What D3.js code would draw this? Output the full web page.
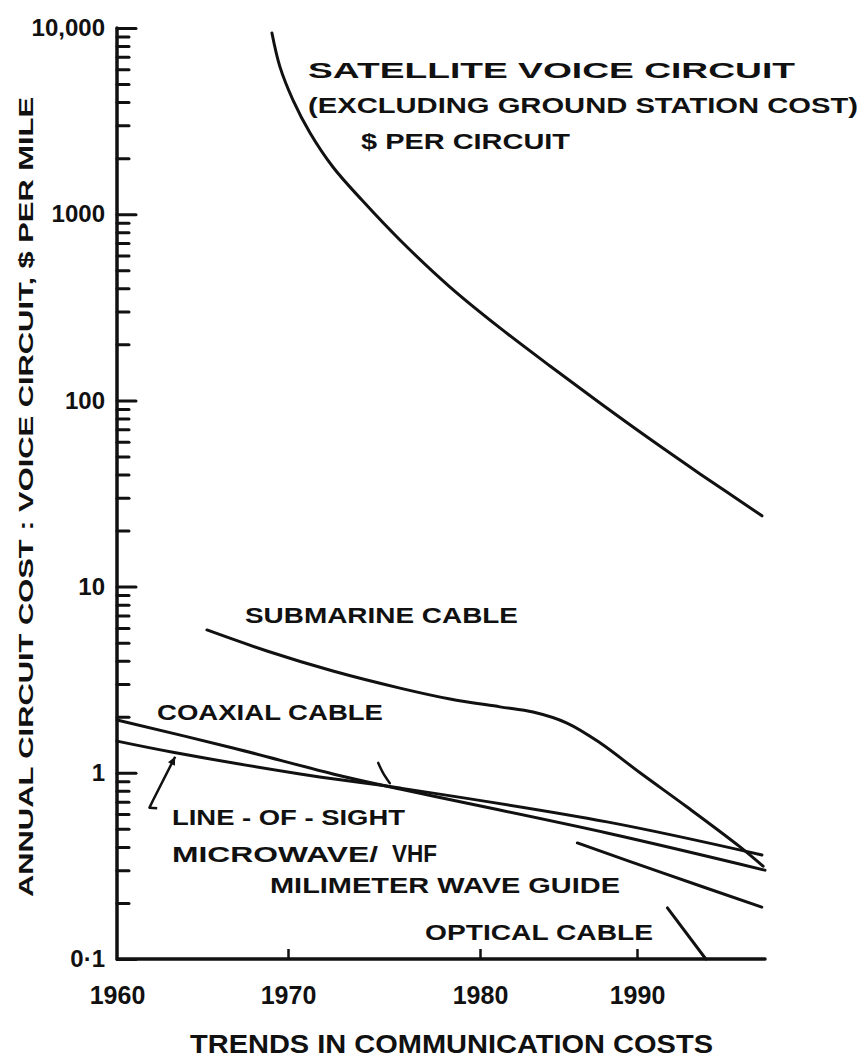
<!DOCTYPE html>
<html>
<head>
<meta charset="utf-8">
<script src="https://cdn.jsdelivr.net/npm/d3@7"></script>
<style>
  html, body { margin: 0; padding: 0; background: #fff; }
  svg { display: block; }
  text { font-family: "Liberation Sans", Arial, sans-serif; font-weight: bold; fill: #111; }
</style>
</head>
<body>
<svg id="chart" width="864" height="1064"></svg>
<script>
// ---- data: annual circuit cost per voice circuit ($ per mile), by year ----
const satelliteYears  = [1969.06, 1969.53, 1970.26, 1971.15, 1972.34, 1973.85, 1975.83, 1978.44, 1981.27, 1984.46, 1987.64, 1990.81, 1993.94, 1997.81];
const satelliteCost   = [9400, 6180, 4100, 2730, 1793, 1191, 727, 406, 245, 153, 96.8, 62, 40.3, 24];

const submarineYears  = [1965.26, 1968.77, 1972.34, 1975.83, 1978.44, 1981.27, 1983.38, 1985.54, 1987.64, 1990.19, 1993.13, 1996.44, 1997.88];
const submarineCost   = [5.85, 4.51, 3.52, 2.85, 2.49, 2.26, 2.12, 1.85, 1.45, 1.0, 0.655, 0.40, 0.315];

const coaxialYears    = [1960.0, 1966.78, 1972.34, 1975.83, 1988.09, 1998.0];
const coaxialCost     = [1.92, 1.36, 0.986, 0.818, 0.475, 0.30];

const lineOfSightYears = [1960.0, 1963.27, 1970.63, 1975.83, 1988.09, 1997.81];
const lineOfSightCost  = [1.48, 1.29, 0.986, 0.828, 0.545, 0.362];

const waveguideYears  = [1986.2, 1991.6, 1997.8];
const waveguideCost   = [0.42, 0.29, 0.19];

const opticalYears    = [1991.9, 1994.3];
const opticalCost     = [0.188, 0.10];

// axis ticks and labels
const yearTicks   = [1960, 1970, 1980, 1990];
const costTicks   = [0.1, 1, 10, 100, 1000, 10000];
const costLabels  = ["0·1", "1", "10", "100", "1000", "10,000"];

// leader marks pointing at the line-of-sight curve
const losArrowYears = [1962.35, 1961.9, 1962.1, 1963.4];
const losArrowCost  = [0.645, 0.65, 0.71, 1.22];
const crossHookYears = [1974.7, 1974.95, 1975.3];
const crossHookCost  = [1.13, 1.0, 0.88];

// ---- scales ----
const svg = d3.select("#chart");
// the hand-ruled year axis has uneven decade spacing
const x = d3.scaleLinear()
  .domain([1960, 1970, 1980, 1990, 1998])
  .range([117, 288, 480, 637, 765]);
const y = d3.scaleLog()
  .domain([0.1, 10000])
  .range([959, 28]);

const ink = "#111";

// ---- y axis ----
const minorTicks = [];
for (let e = -1; e < 4; e++) for (let m = 2; m <= 9; m++) minorTicks.push(m * Math.pow(10, e));

const yMinor = svg.append("g").attr("transform", `translate(${x(1960)},0)`)
  .call(d3.axisLeft(y).tickValues(minorTicks).tickFormat("").tickSize(-12));
const yMajor = svg.append("g").attr("transform", `translate(${x(1960)},0)`)
  .call(d3.axisLeft(y).tickValues(costTicks)
    .tickFormat((d, i) => costLabels[i]).tickSize(-19).tickPadding(12));
[yMinor, yMajor].forEach(g => {
  g.select(".domain").remove();
  g.selectAll(".tick line").attr("stroke", ink).attr("stroke-width", 3).attr("stroke-linecap", "round");
});
yMajor.selectAll(".tick text")
  .attr("font-family", "Liberation Sans, Arial, sans-serif")
  .attr("font-weight", "bold")
  .attr("font-size", 24)
  .attr("fill", ink);

// ---- x axis ----
const xAxis = svg.append("g").attr("transform", `translate(0,${y(0.1)})`)
  .call(d3.axisBottom(x).tickValues(yearTicks).tickFormat(d3.format("d")).tickSize(-10).tickPadding(22));
xAxis.select(".domain").remove();
xAxis.selectAll(".tick line").attr("stroke", ink).attr("stroke-width", 2.5);
xAxis.selectAll(".tick").filter(d => d === 1960).select("line").remove();
xAxis.selectAll(".tick text")
  .attr("font-family", "Liberation Sans, Arial, sans-serif")
  .attr("font-weight", "bold")
  .attr("font-size", 25)
  .attr("fill", ink)
  .attr("dy", "0.9em");

// axis frame lines
svg.append("path")
  .attr("d", d3.line()([[x(1960), y(10000)], [x(1960), y(0.1)], [x(1998), y(0.1)]]))
  .attr("fill", "none").attr("stroke", ink).attr("stroke-width", 3.5)
  .attr("stroke-linecap", "round").attr("stroke-linejoin", "round");

// ---- curves ----
const curve = d3.line().x(d => x(d[0])).y(d => y(d[1])).curve(d3.curveCatmullRom.alpha(0.5));
function series(years, cost) { return years.map((t, i) => [t, cost[i]]); }
const allSeries = [
  series(satelliteYears, satelliteCost),
  series(submarineYears, submarineCost),
  series(coaxialYears, coaxialCost),
  series(lineOfSightYears, lineOfSightCost),
  series(waveguideYears, waveguideCost),
  series(opticalYears, opticalCost)
];
svg.append("g").selectAll("path").data(allSeries).join("path")
  .attr("d", curve)
  .attr("fill", "none").attr("stroke", ink).attr("stroke-width", 3)
  .attr("stroke-linecap", "round").attr("stroke-linejoin", "round");

// leader marks
const straight = d3.line().x(d => x(d[0])).y(d => y(d[1]));
svg.append("path").attr("d", straight(series(losArrowYears, losArrowCost)))
  .attr("fill", "none").attr("stroke", ink).attr("stroke-width", 2.5).attr("stroke-linejoin", "round");
// arrow head at the tip
{
  const tip = [x(losArrowYears[3]), y(losArrowCost[3])];
  const from = [x(losArrowYears[2]), y(losArrowCost[2])];
  const ang = Math.atan2(tip[1] - from[1], tip[0] - from[0]);
  const L = 9, W = 0.45;
  const p1 = [tip[0] - L * Math.cos(ang - W), tip[1] - L * Math.sin(ang - W)];
  const p2 = [tip[0] - L * Math.cos(ang + W), tip[1] - L * Math.sin(ang + W)];
  svg.append("path").attr("d", d3.line()([tip, p1, p2])).attr("fill", ink);
}
svg.append("path").attr("d", curve(series(crossHookYears, crossHookCost)))
  .attr("fill", "none").attr("stroke", ink).attr("stroke-width", 2.5).attr("stroke-linecap", "round");

// ---- text ----
function label(txt, x0, x1, baseline, size) {
  return svg.append("text")
    .attr("x", x0).attr("y", baseline)
    .attr("font-size", size)
    .attr("textLength", x1 - x0)
    .attr("lengthAdjust", "spacingAndGlyphs")
    .text(txt);
}
label("SATELLITE VOICE CIRCUIT", 308, 795, 78, 22);
label("(EXCLUDING GROUND STATION COST)", 308, 858, 113, 22);
label("$ PER CIRCUIT", 361, 570, 149, 22);
label("SUBMARINE CABLE", 245, 518, 623, 22);
label("COAXIAL CABLE", 157, 383, 720, 22);
label("LINE - OF - SIGHT", 172, 405, 825, 22);
label("MICROWAVE/", 172, 378, 862, 22);
svg.append("text").attr("x", 392).attr("y", 862)
  .attr("font-family", "Liberation Serif, serif").attr("font-weight", "bold").attr("font-size", 24)
  .attr("textLength", 45).attr("lengthAdjust", "spacingAndGlyphs").text("VHF");
label("MILIMETER WAVE GUIDE", 270, 620, 893, 22);
label("OPTICAL CABLE", 425, 653, 940, 22);
label("TRENDS IN COMMUNICATION COSTS", 190, 713, 1053, 25);

// rotated y-axis title
svg.append("text")
  .attr("transform", "translate(33,497) rotate(-90)")
  .attr("text-anchor", "middle")
  .attr("font-size", 21)
  .attr("textLength", 800)
  .attr("lengthAdjust", "spacingAndGlyphs")
  .text("ANNUAL CIRCUIT COST : VOICE CIRCUIT, $ PER MILE");
</script>
</body>
</html>
